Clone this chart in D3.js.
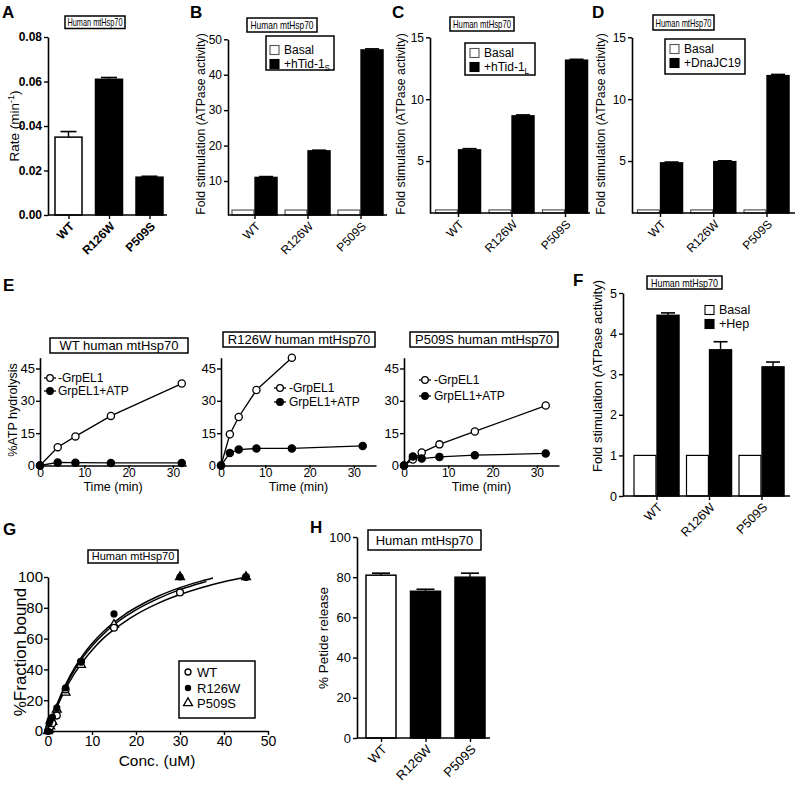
<!DOCTYPE html>
<html><head><meta charset="utf-8">
<script src="https://cdn.jsdelivr.net/npm/d3@7"></script>
<style>
body{margin:0;background:#fff}
svg{display:block}
text{font-family:"Liberation Sans",Arial,Helvetica,sans-serif;fill:#000}
</style>
</head><body><script>
// ---------------- DATA ----------------
const variants = ["WT", "R126W", "P509S"];
// A: basal ATPase rate
const rateA = [0.035, 0.061, 0.017];
const rateAErr = [0.0025, 0.0008, 0.0004];
// B: hTid-1S stimulation
const basalB = [1.8, 1.8, 1.8];
const hTid1S = [11.0, 18.5, 47.0];
const hTid1SErr = [0.25, 0.2, 0.3];
// C: hTid-1L stimulation
const basalC = [1.05, 1.05, 1.05];
const hTid1L = [5.9, 8.65, 13.15];
const hTid1LErr = [0.1, 0.08, 0.07];
// D: DnaJC19 stimulation
const basalD = [1.05, 1.05, 1.05];
const dnaJC19 = [4.85, 4.95, 11.9];
const dnaJC19Err = [0.07, 0.07, 0.1];
// E: ATP hydrolysis time courses
const timeWTMinus = [0, 4, 8, 16, 32];
const wtMinusGrpEL1 = [0, 8.5, 13.5, 23, 38];
const timeWTPlus = [0, 4, 8, 16, 32];
const wtGrpEL1ATP = [0, 1.4, 1.3, 1.2, 1.2];
const timeR126WMinus = [0, 2, 4, 8, 16];
const r126wMinusGrpEL1 = [0, 14.5, 22.5, 35, 50];
const timeR126WPlus = [0, 2, 4, 8, 16, 32];
const r126wGrpEL1ATP = [0, 5.8, 7.4, 7.9, 7.9, 9.1];
const timeP509SMinus = [0, 2, 4, 8, 16, 32];
const p509sMinusGrpEL1 = [0, 2.8, 6, 9.8, 15.8, 27.8];
const timeP509SPlus = [0, 2, 4, 8, 16, 32];
const p509sGrpEL1ATP = [0, 4.2, 3.2, 4, 4.8, 5.6];
// F: Hep stimulation
const basalF = [1, 1, 1];
const hep = [4.45, 3.6, 3.18];
const hepErr = [0.06, 0.2, 0.12];
// G: peptide binding
const concG = [0, 0.25, 0.5, 1, 2, 4, 7.5, 15, 30, 45];
const boundWT = [0, 2, 3, 5, 10, 27, 45, 67, 90, 100];
const boundR126W = [0, 5, 7, 9, 15, 28, 45, 76, 100, 100];
const boundP509S = [0, 1, 3, 6, 14, 25, 43, 69, 100, 100];
const fitConcWT = [0, 1, 2, 4, 6, 8, 10, 12.5, 15, 17.5, 20, 25, 30, 35, 40, 45];
const fitWT = [0, 8.1, 15.3, 27.4, 37.3, 45.5, 52.5, 60.0, 65.9, 71.1, 75.6, 82.9, 88.6, 93.2, 96.9, 100];
const fitConcR126W = [0, 1, 2, 4, 6, 8, 10, 12.5, 15, 17.5, 20, 25, 30, 35, 37.5];
const fitR126W = [0, 9.1, 17.0, 30.2, 40.8, 49.5, 56.8, 64.3, 70.5, 75.8, 80.2, 87.5, 93.1, 97.5, 99.4];
const fitConcP509S = [0, 1, 2, 4, 6, 8, 10, 12.5, 15, 17.5, 20, 25, 30, 35, 36];
const fitP509S = [0, 8.7, 16.3, 29.1, 39.5, 48.1, 55.2, 62.7, 69.0, 74.2, 78.7, 86.0, 91.8, 96.3, 97.1];
// H: peptide release
const peptideRelease = [81, 73, 80];
const peptideReleaseErr = [1, 1, 2];

// ---------------- DRAWING ----------------
const FONT = '"Liberation Sans", Arial, Helvetica, sans-serif';
const svg = d3.select("body").append("svg").attr("width", 798).attr("height", 786);

function panelLabel(x, y, t) {
  svg.append("text").attr("x", x).attr("y", y).attr("font-size", 17).attr("font-weight", "bold").text(t);
}
function titleBox(x, y, w, h, t, fs, condense) {
  svg.append("rect").attr("x", x).attr("y", y).attr("width", w).attr("height", h)
    .attr("fill", "#fff").attr("stroke", "#000").attr("stroke-width", 1.5);
  const tx = svg.append("text").attr("x", x + w / 2).attr("y", y + h / 2).attr("dy", "0.36em")
    .attr("text-anchor", "middle").attr("font-size", fs).text(t);
  if (condense) tx.attr("textLength", condense).attr("lengthAdjust", "spacingAndGlyphs");
}
function yLabel(x, y, t, fs) {
  return svg.append("text").attr("transform", `translate(${x},${y}) rotate(-90)`)
    .attr("text-anchor", "middle").attr("dy", "0.35em").attr("font-size", fs).text(t);
}
function styleAxis(g, fs, bold) {
  g.select(".domain").attr("stroke", "#000").attr("stroke-width", 1.6);
  g.selectAll(".tick line").attr("stroke", "#000").attr("stroke-width", 1.4);
  g.selectAll(".tick text").attr("font-size", fs).attr("font-family", FONT)
    .attr("font-weight", bold ? "bold" : "normal").attr("fill", "#000");
}
function yAxis(x, scale, ticks, fs, fmt, bold) {
  const g = svg.append("g").attr("transform", `translate(${x},0)`)
    .call(d3.axisLeft(scale).tickValues(ticks).tickSize(4).tickSizeOuter(0).tickPadding(2)
      .tickFormat(fmt || (d => d)));
  styleAxis(g, fs, bold);
  return g;
}
function catXAxis(y0, x0, x1, xc, fs, bold) {
  svg.append("line").attr("x1", x0).attr("x2", x1).attr("y1", y0).attr("y2", y0)
    .attr("stroke", "#000").attr("stroke-width", 1.6);
  const g = svg.append("g").attr("transform", `translate(0,${y0})`)
    .call(d3.axisBottom(xc).tickSize(4).tickSizeOuter(0));
  g.select(".domain").remove();
  styleAxis(g, fs, bold);
  g.selectAll(".tick text").attr("x", 0).attr("y", 0).attr("dy", "0.35em")
    .attr("text-anchor", "end").attr("transform", "translate(3,9) rotate(-45)");
}
function errBar(cx, y, v, e, capW) {
  svg.append("line").attr("x1", cx).attr("x2", cx).attr("y1", y(v)).attr("y2", y(v + e))
    .attr("stroke", "#000").attr("stroke-width", 1.4);
  svg.append("line").attr("x1", cx - capW / 2).attr("x2", cx + capW / 2).attr("y1", y(v + e)).attr("y2", y(v + e))
    .attr("stroke", "#000").attr("stroke-width", 1.6);
}

// ---------- Panel A ----------
(function () {
  const y = d3.scaleLinear().domain([0, 0.08]).range([215, 37]);
  const xc = d3.scalePoint().domain(variants).range([68.5, 149.5]);
  const bw = 27;
  svg.append("g").selectAll("rect").data(rateA).join("rect")
    .attr("x", (d, i) => xc(variants[i]) - bw / 2).attr("width", bw)
    .attr("y", d => y(d)).attr("height", d => y(0) - y(d))
    .attr("fill", (d, i) => i === 0 ? "#fff" : "#000").attr("stroke", "#000").attr("stroke-width", 1.5);
  rateA.forEach((v, i) => errBar(xc(variants[i]), y, v, rateAErr[i], 16));
  yAxis(48, y, [0, 0.02, 0.04, 0.06, 0.08], 12, d3.format(".2f"), true);
  catXAxis(215, 48, 167, xc, 12, true);
  const t = yLabel(14, 126, "", 13.5);
  t.append("tspan").text("Rate (min");
  t.append("tspan").attr("font-size", 9).attr("dy", -5).text("-1");
  t.append("tspan").attr("dy", 5).text(")");
  titleBox(65, 16, 60, 12.5, "Human mtHsp70", 11.5, 55);
  panelLabel(2, 18, "A");
})();

// ---------- Grouped bar panels (B, C, D, F) ----------
function groupedPanel(p) {
  const y = d3.scaleLinear().domain(p.yDomain).range(p.yRange);
  const xc = d3.scalePoint().domain(variants).range(p.centers);
  const sub = d3.scaleBand().domain([0, 1]).range([-22.5, 22.5]).paddingInner(0.05);
  const base = y(p.yDomain[0]);
  const series = [
    { vals: p.basal, fill: "#fff", stroke: p.basalStroke },
    { vals: p.stim, fill: "#000", stroke: "#000", err: p.err }
  ];
  series.forEach((s, si) => {
    svg.append("g").selectAll("rect").data(s.vals).join("rect")
      .attr("x", (d, i) => xc(variants[i]) + sub(si)).attr("width", sub.bandwidth())
      .attr("y", d => y(d)).attr("height", d => base - y(d))
      .attr("fill", s.fill).attr("stroke", s.stroke).attr("stroke-width", si ? 1.5 : 1.2);
    if (s.err) s.vals.forEach((v, i) => errBar(xc(variants[i]) + sub(si) + sub.bandwidth() / 2, y, v, s.err[i], 14));
  });
  yAxis(p.axisX, y, p.ticks, p.fs);
  catXAxis(base, p.axisX, p.xEnd, xc, p.fs);
  return y;
}
function legendBox(x, y, w, h) {
  svg.append("rect").attr("x", x).attr("y", y).attr("width", w).attr("height", h)
    .attr("fill", "#fff").attr("stroke", "#000").attr("stroke-width", 1.5);
}
function legendItem(x, y, fill, stroke, label, sub, fs) {
  svg.append("rect").attr("x", x).attr("y", y - 8.5).attr("width", 9).attr("height", 9)
    .attr("fill", fill).attr("stroke", stroke).attr("stroke-width", 1.1);
  const t = svg.append("text").attr("x", x + 14).attr("y", y).attr("font-size", fs);
  t.append("tspan").text(label);
  if (sub) t.append("tspan").attr("font-size", fs * 0.68).attr("dy", 3).text(sub);
}

// B
groupedPanel({ yDomain: [0.4, 50], yRange: [215, 39.3], centers: [254.5, 360.5], basal: basalB, stim: hTid1S,
  err: hTid1SErr, basalStroke: "#555", axisX: 228, xEnd: 387, ticks: [10, 20, 30, 40, 50], fs: 12 });
yLabel(201, 124, "Fold stimulation (ATPase activity)", 12.3);
titleBox(247, 18, 70, 14, "Human mtHsp70", 11.5, 63);
legendBox(266, 36, 68, 34);
legendItem(270, 54, "#fff", "#555", "Basal", null, 12);
legendItem(270, 68, "#000", "#000", "+hTid-1", "S", 12);
panelLabel(190, 18, "B");

// C
groupedPanel({ yDomain: [0.8, 15], yRange: [213, 37.3], centers: [458, 565], basal: basalC, stim: hTid1L,
  err: hTid1LErr, basalStroke: "#555", axisX: 430, xEnd: 590, ticks: [5, 10, 15], fs: 12 });
yLabel(401, 124, "Fold stimulation (ATPase activity)", 12.3);
titleBox(450, 17, 64, 14, "Human mtHsp70", 11.5, 58);
legendBox(465, 43, 70, 32);
legendItem(470, 57, "#fff", "#555", "Basal", null, 12);
legendItem(470, 71, "#000", "#000", "+hTid-1", "L", 12);
panelLabel(392, 18, "C");

// D
groupedPanel({ yDomain: [0.8, 15], yRange: [213, 37.3], centers: [660, 766.5], basal: basalD, stim: dnaJC19,
  err: dnaJC19Err, basalStroke: "#555", axisX: 632, xEnd: 795, ticks: [5, 10, 15], fs: 12 });
yLabel(601, 124, "Fold stimulation (ATPase activity)", 12.3);
titleBox(653, 15, 61, 15, "Human mtHsp70", 11.5, 56);
legendBox(665, 39, 80, 35);
legendItem(670, 53, "#fff", "#555", "Basal", null, 12);
legendItem(670, 67, "#000", "#000", "+DnaJC19", null, 12);
panelLabel(592, 18, "D");

// ---------- Panel E ----------
function timePanel(p) {
  const x = d3.scaleLinear().domain(p.xDomain).range(p.xRange);
  const y = d3.scaleLinear().domain([0, 50]).range([465.5, 357.7]);
  const line = d3.line().x(d => x(d[0])).y(d => y(d[1]));
  const sets = [
    { t: p.tMinus, v: p.minus, fill: "#fff" },
    { t: p.tPlus, v: p.plus, fill: "#000" }
  ];
  sets.forEach(s => {
    const pts = s.t.map((t, i) => [t, s.v[i]]);
    svg.append("path").datum(pts).attr("d", line).attr("fill", "none").attr("stroke", "#000").attr("stroke-width", 1.3);
    svg.append("g").selectAll("circle").data(pts).join("circle")
      .attr("cx", d => x(d[0])).attr("cy", d => y(d[1])).attr("r", 3.6)
      .attr("fill", s.fill).attr("stroke", "#000").attr("stroke-width", 1.3);
  });
  const gy = svg.append("g").attr("transform", `translate(${p.xRange[0]},0)`)
    .call(d3.axisLeft(y).tickValues([0, 15, 30, 45]).tickSize(4).tickSizeOuter(0).tickPadding(1));
  styleAxis(gy, 13);
  const gx = svg.append("g").attr("transform", `translate(0,465.5)`)
    .call(d3.axisBottom(x).tickValues([0, 10, 20, 30]).tickSize(3).tickSizeOuter(0).tickPadding(0));
  styleAxis(gx, 12);
  svg.append("text").attr("x", (p.xRange[0] + p.xRange[1]) / 2).attr("y", 491)
    .attr("text-anchor", "middle").attr("font-size", 12.5).text("Time (min)");
  // legend
  [[p.leg[2], "#fff", "-GrpEL1"], [p.leg[3], "#000", "GrpEL1+ATP"]].forEach(([ly, f, lab]) => {
    svg.append("line").attr("x1", p.leg[0] - 6).attr("x2", p.leg[0] + 6).attr("y1", ly).attr("y2", ly)
      .attr("stroke", "#000").attr("stroke-width", 1.3);
    svg.append("circle").attr("cx", p.leg[0]).attr("cy", ly).attr("r", 3.3)
      .attr("fill", f).attr("stroke", "#000").attr("stroke-width", 1.3);
    svg.append("text").attr("x", p.leg[1]).attr("y", ly).attr("dy", "0.36em").attr("font-size", 12).text(lab);
  });
  titleBox(p.title[0], p.title[1], p.title[2], 15, p.title[3], 13);
}
timePanel({ xDomain: [0, 33], xRange: [40, 186.2], tMinus: timeWTMinus, minus: wtMinusGrpEL1,
  tPlus: timeWTPlus, plus: wtGrpEL1ATP, leg: [50, 58, 378, 391], title: [50, 338, 138, "WT human mtHsp70"] });
timePanel({ xDomain: [0, 35], xRange: [221, 376], tMinus: timeR126WMinus, minus: r126wMinusGrpEL1,
  tPlus: timeR126WPlus, plus: r126wGrpEL1ATP, leg: [280, 289, 388, 402], title: [223, 332, 152, "R126W human mtHsp70"] });
timePanel({ xDomain: [0, 35], xRange: [404, 559], tMinus: timeP509SMinus, minus: p509sMinusGrpEL1,
  tPlus: timeP509SPlus, plus: p509sGrpEL1ATP, leg: [425, 434, 380, 396], title: [410, 332, 148, "P509S human mtHsp70"] });
yLabel(13, 410, "%ATP hydrolysis", 12.5);
panelLabel(3, 291, "E");

// ---------- Panel F ----------
groupedPanel({ yDomain: [0, 5], yRange: [496, 293], centers: [656.5, 761.5], basal: basalF, stim: hep,
  err: hepErr, basalStroke: "#000", axisX: 623, xEnd: 790, ticks: [0, 1, 2, 3, 4, 5], fs: 12.5 });
yLabel(597, 376, "Fold stimulation (ATPase activity)", 13);
titleBox(647, 276, 75, 13, "Human mtHsp70", 11.5, 67);
legendItem(705, 314, "#fff", "#000", "Basal", null, 12.5);
legendItem(705, 328, "#000", "#000", "+Hep", null, 12.5);
panelLabel(573, 286, "F");

// ---------- Panel G ----------
(function () {
  const x = d3.scaleLinear().domain([0, 50]).range([48, 268]);
  const y = d3.scaleLinear().domain([0, 100]).range([731, 577]);
  const line = d3.line().x(d => x(d[0])).y(d => y(d[1])).curve(d3.curveMonotoneX);
  [[fitConcWT, fitWT], [fitConcR126W, fitR126W], [fitConcP509S, fitP509S]].forEach(([cx, cy]) => {
    svg.append("path").datum(cx.map((c, i) => [c, cy[i]])).attr("d", line)
      .attr("fill", "none").attr("stroke", "#000").attr("stroke-width", 1.5);
  });
  const tri = d3.symbol().type(d3.symbolTriangle).size(34);
  svg.append("g").selectAll("path").data(concG.map((c, i) => [c, boundP509S[i]])).join("path")
    .attr("d", tri).attr("transform", d => `translate(${x(d[0])},${y(d[1])})`)
    .attr("fill", "#fff").attr("stroke", "#000").attr("stroke-width", 1.3);
  svg.append("g").selectAll("circle").data(concG.map((c, i) => [c, boundWT[i]])).join("circle")
    .attr("cx", d => x(d[0])).attr("cy", d => y(d[1])).attr("r", 3.4)
    .attr("fill", "#fff").attr("stroke", "#000").attr("stroke-width", 1.3);
  svg.append("g").selectAll("circle").data(concG.map((c, i) => [c, boundR126W[i]])).join("circle")
    .attr("cx", d => x(d[0])).attr("cy", d => y(d[1])).attr("r", 3.6).attr("fill", "#000");
  const gy = svg.append("g").attr("transform", "translate(48,0)")
    .call(d3.axisLeft(y).tickValues([0, 20, 40, 60, 80, 100]).tickSize(4).tickSizeOuter(0).tickPadding(1));
  styleAxis(gy, 15);
  const gx = svg.append("g").attr("transform", "translate(0,731)")
    .call(d3.axisBottom(x).tickValues([0, 10, 20, 30, 40, 50]).tickSize(4).tickSizeOuter(0).tickPadding(1));
  styleAxis(gx, 14);
  yLabel(20, 652, "%Fraction bound", 17);
  svg.append("text").attr("x", 157).attr("y", 766).attr("text-anchor", "middle").attr("font-size", 15.5).text("Conc. (uM)");
  titleBox(88, 550, 90, 13, "Human mtHsp70", 11);
  svg.append("rect").attr("x", 179).attr("y", 661).attr("width", 76).attr("height", 57)
    .attr("fill", "#fff").attr("stroke", "#000").attr("stroke-width", 1.5);
  svg.append("circle").attr("cx", 188).attr("cy", 672).attr("r", 3).attr("fill", "#fff").attr("stroke", "#000").attr("stroke-width", 1.3);
  svg.append("circle").attr("cx", 188).attr("cy", 688).attr("r", 3.2).attr("fill", "#000");
  svg.append("path").attr("d", tri).attr("transform", "translate(188,703)").attr("fill", "#fff").attr("stroke", "#000").attr("stroke-width", 1.3);
  [["WT", 672], ["R126W", 688], ["P509S", 703]].forEach(([l, ly]) =>
    svg.append("text").attr("x", 197).attr("y", ly).attr("dy", "0.36em").attr("font-size", 13).text(l));
  panelLabel(3, 535, "G");
})();

// ---------- Panel H ----------
(function () {
  const y = d3.scaleLinear().domain([0, 100]).range([738, 537]);
  const xc = d3.scalePoint().domain(variants).range([381, 470]);
  const bw = 30;
  svg.append("g").selectAll("rect").data(peptideRelease).join("rect")
    .attr("x", (d, i) => xc(variants[i]) - bw / 2).attr("width", bw)
    .attr("y", d => y(d)).attr("height", d => y(0) - y(d))
    .attr("fill", (d, i) => i === 0 ? "#fff" : "#000").attr("stroke", "#000").attr("stroke-width", 1.5);
  peptideRelease.forEach((v, i) => errBar(xc(variants[i]), y, v, peptideReleaseErr[i], 18));
  yAxis(357, y, [0, 20, 40, 60, 80, 100], 13);
  catXAxis(738, 357, 490, xc, 13);
  yLabel(323, 638, "% Petide release", 13.5);
  titleBox(368, 530, 113, 20, "Human mtHsp70", 13);
  panelLabel(310, 533, "H");
})();
</script></body></html>
